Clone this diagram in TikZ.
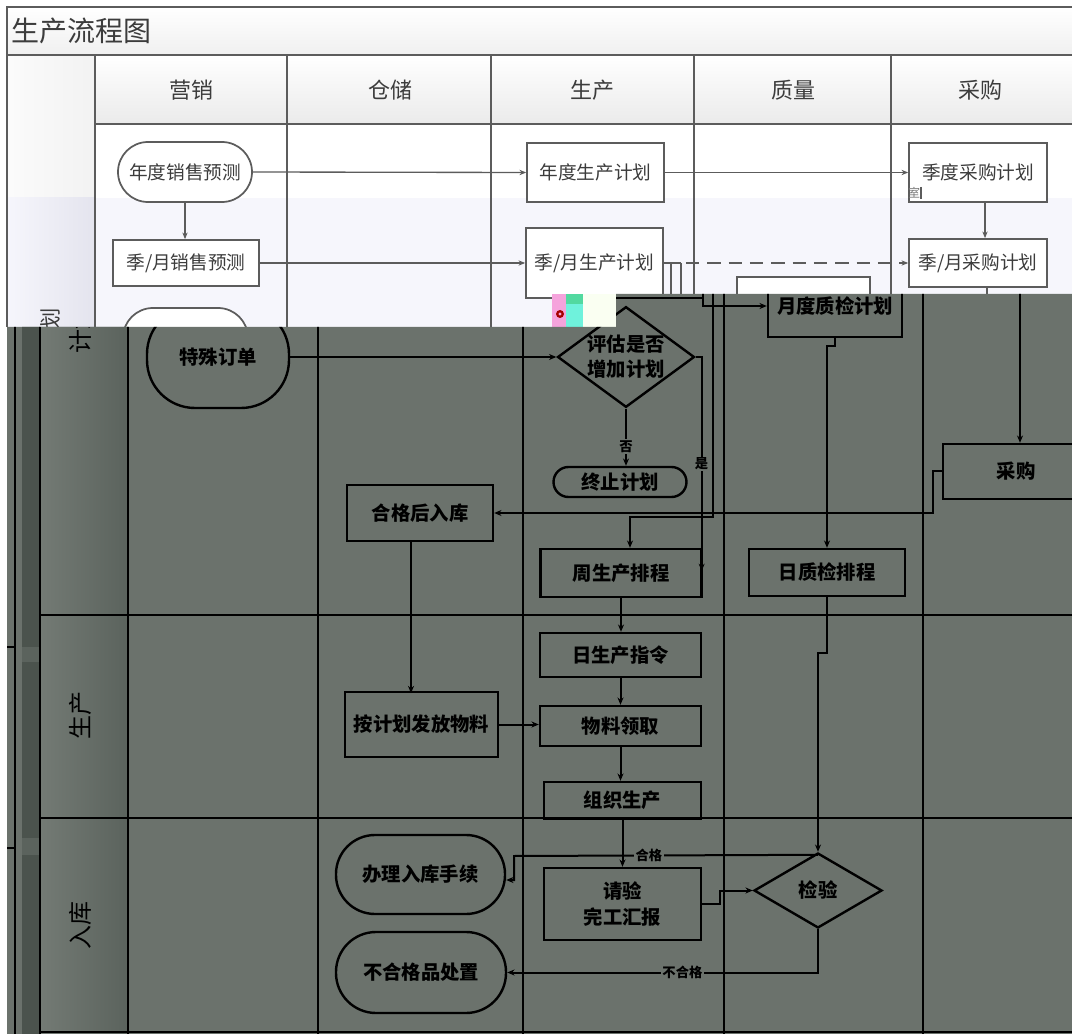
\documentclass[tikz,border=0pt]{standalone}
\usepackage{fontspec}
\newfontfamily\cjk{Noto Sans CJK SC}
\usetikzlibrary{shapes.geometric,arrows.meta,calc}
\definecolor{wline}{HTML}{5C5C5C}
\definecolor{wtext}{HTML}{3C3C3C}
\definecolor{lav}{HTML}{F6F6FC}
\definecolor{lavd}{HTML}{E4E4EE}
\definecolor{dkbg}{HTML}{6B726C}
\definecolor{dkstrip}{HTML}{4B534D}
\definecolor{dklblL}{HTML}{737A74}
\definecolor{dklblR}{HTML}{5B635D}
\definecolor{gpink}{HTML}{F5A3DC}
\definecolor{gcyan}{HTML}{6FF2DC}
\definecolor{ggreen}{HTML}{52D9A0}
\definecolor{gpale}{HTML}{FAFFF2}
\begin{document}
\begin{tikzpicture}[x=0.75pt,y=-0.75pt,
  sz/.style 2 args={minimum width=#1*0.75pt, minimum height=#2*0.75pt, inner sep=0pt},
  wframe/.style={draw=wline, line width=1.3pt},
  wbox/.style={draw=wline, line width=1.3pt, fill=white, text=wtext, align=center, font=\cjk\fontsize{14}{17}\selectfont},
  wstad/.style={wbox, rounded corners=#1*0.75pt},
  wcon/.style={draw=wline, line width=1pt, -{Stealth[length=5pt,width=4pt]}},
  wcon0/.style={draw=wline, line width=1pt},
  whead/.style={text=wtext, font=\cjk\fontsize{16.5}{18}\selectfont},
  dframe/.style={draw=black, line width=1.5pt},
  dthick/.style={draw=black, line width=2.2pt},
  dbox/.style={draw=black, line width=1.8pt, text=black, align=center, font=\cjk\bfseries\fontsize{14.5}{19}\selectfont},
  dstad/.style={dbox, rounded corners=#1*0.75pt},
  ddia/.style={dbox, shape=diamond},
  dcon/.style={draw=black, line width=1.5pt, -{Stealth[length=5.5pt,width=4.5pt]}},
  dcon0/.style={draw=black, line width=1.5pt},
  dlab/.style={fill=dkbg, inner sep=1pt, text=black, font=\cjk\bfseries\fontsize{10}{10}\selectfont},
  dhead/.style={text=black, rotate=90, font=\cjk\fontsize{18}{20}\selectfont}
]
\useasboundingbox (0,0) rectangle (1072,1034);
\fill[white] (0,0) rectangle (1072,1034);
\begin{scope}
\clip (0,0) rectangle (1072,1034);

% ================= WHITE (upper) LAYER =================
\begin{scope}
\clip (0,0) -- (1072,0) -- (1072,294) -- (616,294) -- (616,327) -- (0,327) -- cycle;
\fill[lav] (7,198) rectangle (1090,340);
\shade[top color=white, bottom color=gray!12] (7,7) rectangle (1090,55);
\shade[top color=white, bottom color=gray!16] (95,55) rectangle (1090,124);
\shade[left color=gray!3, right color=gray!10] (7,55) rectangle (95,198);
\shade[left color=lav, right color=lavd] (7,198) rectangle (95,340);
\draw[wframe] (1090,7) -- (7,7) -- (7,340);
\draw[wframe] (7,55) -- (1090,55);
\draw[wframe] (95,124) -- (1090,124);
\foreach \xx in {95,287,491,694,891} \draw[wframe] (\xx,55) -- (\xx,340);

\node[anchor=west, text=wtext, inner sep=0pt, font=\cjk\fontsize{21}{23}\selectfont] (title) at (11,31) {生产流程图};
\node[whead] (h1) at (191,90) {营销};
\node[whead] (h2) at (390,90) {仓储};
\node[whead] (h3) at (592,90) {生产};
\node[whead] (h4) at (793,90) {质量};
\node[whead] (h5) at (980,90) {采购};
\node[rotate=90, text=wtext, font=\cjk\fontsize{16}{18}\selectfont] (wlbl) at (50,330) {计划};

\node[wstad=30, sz={134}{60}] (nxsyc) at (185,172) {年度销售预测};
\node[wbox, sz={146}{46}] (jyxsyc) at (186,263) {季/月销售预测};
\node[wstad=30, sz={125}{60}] (wthird) at (185.5,338) {};
\node[wbox, sz={137}{59}] (ndscjh) at (595.5,172.5) {年度生产计划};
\node[wbox, sz={137}{70}] (jyscjh) at (594.5,263) {季/月生产计划};
\node[wbox, sz={138}{59}] (jdcgjh) at (978,172.5) {季度采购计划};
\node[wbox, sz={138}{48}] (jycgjh) at (978,263) {季/月采购计划};
\node[wbox, sz={133}{60}] (wydzj) at (803.5,307) {};
\node[text=wtext!70, inner sep=0pt, font=\cjk\fontsize{9}{9}\selectfont] (art) at (914,193) {室};
\draw[wcon0] (921,187) -- (921,199);

\draw[wcon] (nxsyc.south) -- (nxsyc.south |- jyxsyc.north);
\draw[wcon] (nxsyc.east) -- (ndscjh.west);
\draw[wcon] (jyxsyc.east) -- (jyscjh.west);
\draw[wcon] (ndscjh.east) -- (jdcgjh.west);
\draw[wcon] ($(jdcgjh.south)+(7,0)$) -- ($(jycgjh.north)+(7,0)$);
\draw[wcon0] (jyscjh.east) -- ($(jyscjh.east)+(17,0)$);
\draw[wcon, dash pattern=on 10pt off 6pt] ($(jyscjh.east)+(22,0)$) -- (jycgjh.west);
\draw[wcon0] ($(jyscjh.east)+(7,0)$) -- ++(0,40);
\draw[wcon0] ($(jyscjh.east)+(17,0)$) -- ++(0,40);
\draw[wcon0] ($(jycgjh.south)+(9,0)$) -- ++(0,15);
\end{scope}

% glitch patch
\fill[gpink] (552,294) rectangle (566,327);
\fill[red!65!black] (560,314) circle (4);
\fill[gpink] (560,314) circle (1.6);
\fill[gcyan] (566,294) rectangle (583,327);
\fill[ggreen] (566,294) rectangle (583,304);
\fill[gpale] (583,294) rectangle (616,327);

% ================= DARK (lower) LAYER =================
\fill[dkbg] (7,327) -- (616,327) -- (616,294) -- (1072,294) -- (1072,1034) -- (7,1034) -- cycle;
\begin{scope}
\clip (7,327) -- (616,327) -- (616,294) -- (1072,294) -- (1072,1034) -- (7,1034) -- cycle;
\fill[dkstrip] (22,280) rectangle (40,1034);
\fill[dklblR] (22,647) rectangle (40,662);
\fill[dklblR] (22,838) rectangle (40,855);
\shade[left color=dklblL, right color=dklblR] (41,280) rectangle (128,1034);
\draw[black, line width=0.8pt] (15,280) -- (15,1034);
\draw[black, line width=0.8pt] (7,647) -- (15,647);
\draw[black, line width=0.8pt] (7,848) -- (15,848);
\draw[dframe] (40,280) -- (40,1034);
\draw[dframe] (128,280) -- (128,1034);
\draw[dthick] (318,280) -- (318,1034);
\draw[dthick] (523,280) -- (523,1034);
\draw[dthick] (724,280) -- (724,1034);
\draw[dthick] (923,280) -- (923,1034);
\draw[dframe] (40,615) -- (1072,615);
\draw[dframe] (40,818) -- (1072,818);
\draw[dframe] (40,1032) -- (1072,1032);

\node[dhead] (r1) at (80,330) {计划};
\node[dhead] (r2) at (80,715) {生产};
\node[dhead] (r3) at (80,925) {入库};

\node[dstad=48, sz={142}{102}] (tsdd) at (218,357) {特殊订单};
\node[ddia, aspect=1.36, sz={136}{100}] (pg) at (626,357) {评估是否\\增加计划};
\node[dstad=15, sz={133}{30}] (zzjh) at (620,482) {终止计划};
\node[dbox, sz={146}{56}] (hgrk) at (420,513) {合格后入库};
\node[dbox, sz={161}{48}] (zscpc) at (621,573) {周生产排程};
\node[dbox, sz={134}{62}] (ydzj) at (835,306) {月度质检计划};
\node[dbox, sz={156}{47}] (rzjpc) at (827,572.5) {日质检排程};
\node[dbox, sz={146}{55}] (cg) at (1016,471.5) {采购};
\node[dbox, sz={161}{44}] (rsczl) at (620.5,655) {日生产指令};
\node[dbox, sz={161}{40}] (wlly) at (620.5,726) {物料领取};
\node[dbox, sz={153}{65}] (ajhff) at (421.5,724.5) {按计划发放物料};
\node[dbox, sz={157}{37}] (zzsc) at (622.5,800.5) {组织生产};
\node[dbox, sz={157}{72}] (qy) at (622.5,904) {请验\\完工汇报};
\node[ddia, aspect=1.7, sz={128}{75}] (jy) at (818,890.5) {检验};
\node[dstad=39, sz={169}{79}] (blrk) at (420.5,874.5) {办理入库手续};
\node[dstad=40, sz={170}{81}] (bhgp) at (421,972.5) {不合格品处置};

\coordinate (tA) at (616,298);
\coordinate (tB) at (703,290);
\coordinate (tC) at (713,290);
\coordinate (tD) at (1020,290);

\draw[dcon] (tsdd.east) -- (pg.west);
\draw[dcon] (pg.south) -- node[dlab, pos=0.66]{否} (pg.south |- zzjh.north);
\draw[dcon] (pg.east) -- ++(6,0) -- node[dlab, pos=0.5]{是} ($(pg.east)+(6,214)$);
\draw[dcon] (tC) -- (713,517) -| ($(zscpc.north)+(9,0)$);
\draw[dcon0] (tA) -- (703,298);
\draw[dcon] (tB) -- (703,306) -- (ydzj.west);
\draw[dcon] (ydzj.south) -- ++(0,8) -| (rzjpc.north);
\draw[dcon] (rzjpc.south) -- ++(0,56) -| (jy.north);
\draw[dcon] (zscpc.south) -- (zscpc.south |- rsczl.north);
\draw[dcon] (rsczl.south) -- (wlly.north);
\draw[dcon] (wlly.south) -- (wlly.south |- zzsc.north);
\draw[dcon] (zzsc.south) -- (qy.north);
\draw[dcon] (ajhff.east) -- (ajhff.east -| wlly.west);
\draw[dcon] ($(hgrk.south)+(-9,0)$) -- ($(hgrk.south)+(-9,151)$);
\draw[dcon] (cg.west) -- ++(-9,0) |- (hgrk.east);
\draw[dcon] (tD) -- (tD |- cg.north);
\draw[dcon] (qy.east) -- ++(18,0) |- (jy.west);
\draw[dcon] ($(jy.north)+(0,3)$) -- node[dlab, pos=0.556]{合格} (514,856) -- (514,880) -- ($(blrk.east)+(0,5.5)$);
\draw[dcon] (jy.south) |- node[dlab, pos=0.718]{不合格} (bhgp.east);
\end{scope}
\end{scope}
\end{tikzpicture}
\end{document}
